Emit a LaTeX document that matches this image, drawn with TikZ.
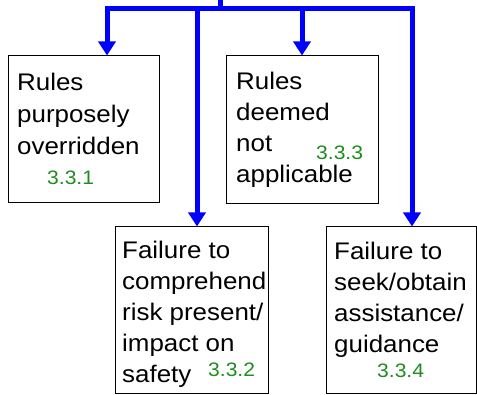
\documentclass[tikz,border=0pt]{standalone}
\usepackage{fontspec}
\setmainfont{Liberation Sans}[FakeStretch=1.08]
\usetikzlibrary{arrows.meta,calc}
\definecolor{flowblue}{RGB}{0,0,255}
\definecolor{refgreen}{RGB}{30,140,30}
\tikzset{
  x=1pt, y=1pt,
  box/.style={draw=black, line width=1.1pt, anchor=north west, inner sep=0pt},
  % multi-line labels are placed by the baseline of their last line
  label/.style={anchor=base west, inner sep=0pt, align=left,
    font=\fontsize{24}{31}\selectfont},
  num/.style={anchor=base west, inner sep=0pt, text=refgreen,
    font=\fontsize{19.5}{22}\selectfont},
  bus/.style={draw=flowblue, line width=5pt},
  feed/.style={bus, -{Triangle[width=17pt,length=14pt]}, shorten >=-0.5pt}
}
\begin{document}
\begin{tikzpicture}
\useasboundingbox (0,0) rectangle (477,-395);

% boxes
\node[box, minimum width=151pt, minimum height=147pt] (b1) at (8,-55) {};
\node[box, minimum width=152pt, minimum height=148pt] (b3) at (226,-55) {};
\node[box, minimum width=153pt, minimum height=167pt] (b2) at (115,-226) {};
\node[box, minimum width=150pt, minimum height=167pt] (b4) at (326,-226) {};

% texts
\node[label, font=\fontsize{24}{32}\selectfont] (t1) at (17,-155) {Rules\\purposely\\overridden};
\node[num] (n1) at (47,-185) {3.3.1};
\node[label] (t3) at (236,-183) {Rules\\deemed\\not\\applicable};
\node[num] (n3) at (316,-160) {3.3.3};
\node[label] (t2) at (122,-383) {Failure to\\comprehend\\risk present/\\impact on\\safety};
\node[num] (n2) at (208,-377) {3.3.2};
\node[label] (t4) at (334,-353) {Failure to\\seek/obtain\\assistance/\\guidance};
\node[num] (n4) at (377,-378) {3.3.4};

% distribution lines
\coordinate (root) at (220,0);
\coordinate (hub) at (220,-8.5);
\coordinate (e1) at ($(b1.north west)+(99,0)$);
\coordinate (e3) at ($(b3.north west)+(76,0)$);
\coordinate (e2) at ($(b2.north west)+(82,0)$);
\coordinate (e4) at ($(b4.north west)+(86,0)$);

\draw[bus] (root) -- (hub);
\draw[bus, line cap=rect] (e1 |- hub) -- (e4 |- hub);
\draw[feed] (e1 |- hub) -- (e1);
\draw[feed] (e3 |- hub) -- (e3);
\draw[feed] (e2 |- hub) -- (e2);
\draw[feed] (e4 |- hub) -- (e4);
\end{tikzpicture}
\end{document}
